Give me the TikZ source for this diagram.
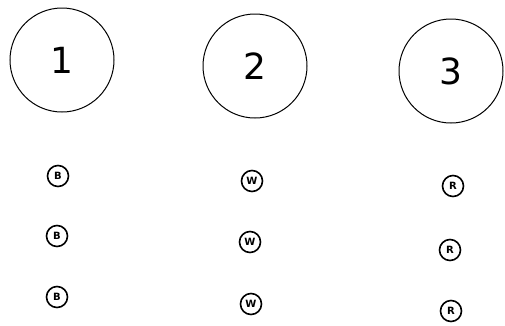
\documentclass[tikz,border=0pt]{standalone}
\usepackage{fontspec}
\setsansfont{DejaVu Sans}
\begin{document}
\begin{tikzpicture}[x=1pt,y=-1pt,
  bigc/.style={circle,draw,line width=1pt,minimum size=104pt,inner sep=0pt,font=\sffamily\fontsize{36}{36}\selectfont\mdseries},
  smallc/.style={circle,draw,line width=1.6pt,minimum size=21pt,inner sep=0pt,font=\sffamily\bfseries\fontsize{10}{10}\selectfont}]
\useasboundingbox (0,0) rectangle (505,325);
\node[bigc] (c1) at (62,60) {1};
\node[bigc] (c2) at (255,66) {2};
\node[bigc] (c3) at (451,71) {3};
\node[smallc] (b1) at (58,176) {B};
\node[smallc] (b2) at (57,236) {B};
\node[smallc] (b3) at (57,297) {B};
\node[smallc] (w1) at (252,181) {W};
\node[smallc] (w2) at (250,242) {W};
\node[smallc] (w3) at (251,304) {W};
\node[smallc] (r1) at (453,186) {R};
\node[smallc] (r2) at (450,250) {R};
\node[smallc] (r3) at (451,311) {R};
\end{tikzpicture}
\end{document}
